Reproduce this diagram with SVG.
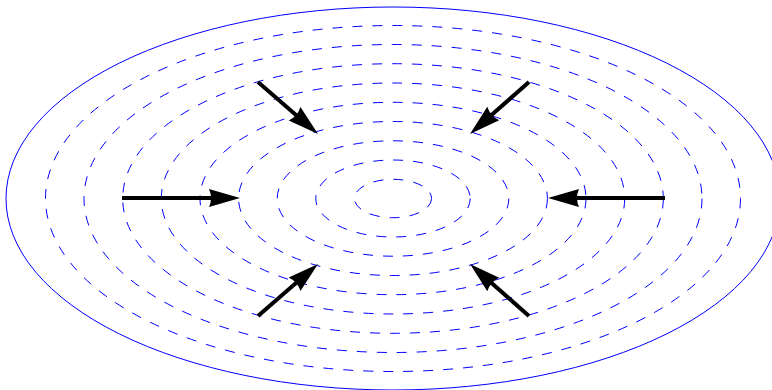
<svg xmlns="http://www.w3.org/2000/svg" width="772" height="390" viewBox="0 0 772 390">
<style>
.outer{fill:none;stroke:#0000ff;stroke-width:1}
.d{fill:none;stroke:#0000ff;stroke-width:1;stroke-dasharray:10 10}
.arr{stroke:#000;stroke-width:4;fill:none;marker-end:url(#ah)}
</style>
<defs>
<marker id="ah" viewBox="-12 -10 33 20" markerWidth="33" markerHeight="20" refX="0" refY="0" orient="auto" markerUnits="userSpaceOnUse" overflow="visible">
<path d="M20,0 L-11,-9 Q-7,0 -11,9 Z" fill="#000"/>
</marker>
</defs>
<rect width="772" height="390" fill="#fff"/>
<g id="ellipses">
<ellipse class="outer" cx="393" cy="198.5" rx="387" ry="191.5"/>
<ellipse class="d" cx="393" cy="198.5" rx="347.5" ry="173"/>
<ellipse class="d" cx="393" cy="198.5" rx="309" ry="154"/>
<ellipse class="d" cx="393" cy="198.5" rx="270.3" ry="134.8"/>
<ellipse class="d" cx="393" cy="198.5" rx="231.7" ry="115.5"/>
<ellipse class="d" cx="393" cy="198.5" rx="193" ry="96.2"/>
<ellipse class="d" cx="393" cy="198.5" rx="154.4" ry="77"/>
<ellipse class="d" cx="393" cy="198.5" rx="115.8" ry="57.7"/>
<ellipse class="d" cx="393" cy="198.5" rx="77.2" ry="38.5"/>
<ellipse class="d" cx="393" cy="198.5" rx="38.6" ry="19.2"/>
</g>
<g id="connectors">
<line class="arr" x1="122" y1="198" x2="220" y2="198"/>
<line class="arr" x1="665" y1="198" x2="568" y2="198"/>
<line class="arr" x1="258" y1="82" x2="302.9" y2="120.9"/>
<line class="arr" x1="529" y1="82" x2="485" y2="120.8"/>
<line class="arr" x1="258" y1="316" x2="302.9" y2="277.1"/>
<line class="arr" x1="529" y1="316" x2="485" y2="277.2"/>
</g>
</svg>
